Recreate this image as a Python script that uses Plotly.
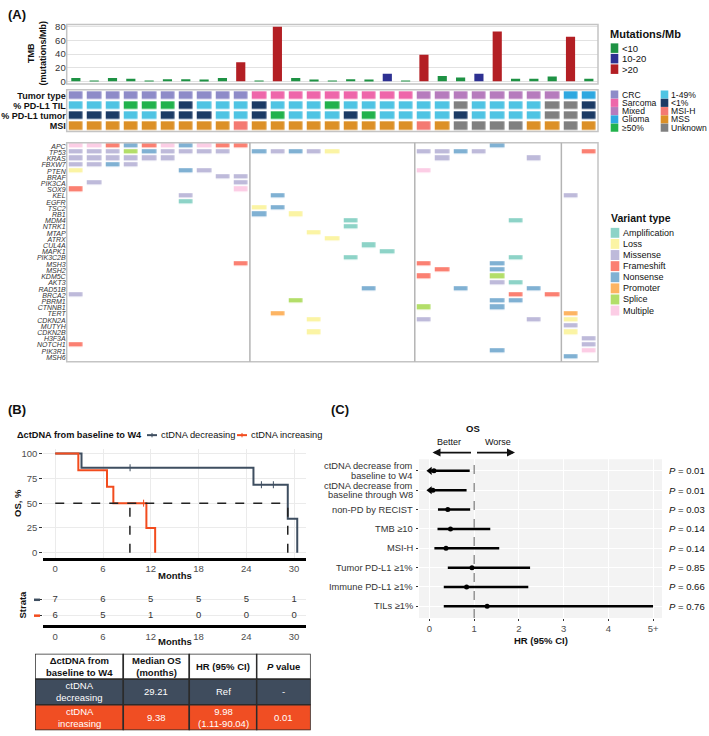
import plotly.graph_objects as go

W, H = 709, 736
def fx(x): return x / W
def fy(y): return 1 - y / H

FONT = "Liberation Sans, Arial, sans-serif"

# ---------------- Panel A data ----------------
sample_ids = list(range(1, 30))
tmb_values = [5, 1, 5, 4, 1, 3, 3, 2, 5, 28, 1, 80, 5, 2, 1, 3, 2, 11, 1, 39,
              8, 5.5, 11, 73, 4, 4, 7, 65.5, 4]
tmb_bins = ["<10", "10-20", ">20"]
tmb_bin_colors = ["#1e9244", "#2e3192", "#b31f24"]

tumor_type = ["CRC", "CRC", "CRC", "CRC", "CRC", "CRC", "CRC", "CRC", "CRC", "CRC",
              "Sarcoma", "Sarcoma", "Sarcoma", "Sarcoma", "Sarcoma", "Sarcoma", "Sarcoma", "Sarcoma", "Sarcoma",
              "Mixed", "Mixed", "Mixed", "Mixed", "Mixed", "Mixed", "Mixed", "Mixed",
              "Glioma", "Glioma"]
pdl1_til = ["1-49%", "1-49%", "1-49%", "≥50%", "≥50%", "≥50%", "<1%", "1-49%", "1-49%", "1-49%",
            "<1%", "1-49%", "1-49%", "1-49%", "≥50%", "1-49%", "1-49%", "1-49%", "1-49%", "1-49%",
            "1-49%", "Unknown", "1-49%", "1-49%", "1-49%", "1-49%", "Unknown", "Unknown", "<1%"]
pdl1_tumor = ["<1%", "<1%", "<1%", "1-49%", "1-49%", "<1%", "<1%", "<1%", "1-49%", "1-49%",
              "<1%", "≥50%", "1-49%", "1-49%", "1-49%", "<1%", "≥50%", "1-49%", "1-49%", "1-49%",
              "1-49%", "<1%", "1-49%", "1-49%", "1-49%", "1-49%", "Unknown", "Unknown", "<1%"]
msi_status = ["MSS", "MSS", "MSS", "MSS", "MSS", "MSS", "MSS", "MSS", "MSS", "MSI-H",
              "MSS", "MSS", "MSS", "MSS", "MSS", "MSS", "MSS", "MSS", "MSS", "MSI-H",
              "MSS", "Unknown", "Unknown", "Unknown", "Unknown", "MSS", "MSS", "Unknown", "MSS"]
annotation_rows = ["Tumor type", "% PD-L1 TIL", "% PD-L1 tumor", "MSI"]
annotation_legend_col1 = ["CRC", "Sarcoma", "Mixed", "Glioma", "≥50%"]
annotation_legend_col2 = ["1-49%", "<1%", "MSI-H", "MSS", "Unknown"]
annotation_colors = {"CRC": "#8e8bc8", "Sarcoma": "#ee66aa", "Mixed": "#b67bbd", "Glioma": "#2ea8e0",
                     "≥50%": "#22b24c", "1-49%": "#4fc4e3", "<1%": "#1c3b65", "MSI-H": "#f47a72",
                     "MSS": "#dc9027", "Unknown": "#808080"}

genes = ["APC", "TP53", "KRAS", "FBXW7", "PTEN", "BRAF", "PIK3CA", "SOX9", "KEL", "EGFR", "TSC2",
         "RB1", "MDM4", "NTRK1", "MTAP", "ATRX", "CUL4A", "MAPK1", "PIK3C2B", "MSH3", "MSH2",
         "KDM5C", "AKT3", "RAD51B", "BRCA2", "PBRM1", "CTNNB1", "TERT", "CDKN2A", "MUTYH",
         "CDKN2B", "H3F3A", "NOTCH1", "PIK3R1", "MSH6"]
variant_types = ["Amplification", "Loss", "Missense", "Frameshift", "Nonsense", "Promoter", "Splice", "Multiple"]
variant_code = {"A": "Amplification", "L": "Loss", "M": "Missense", "F": "Frameshift",
                "N": "Nonsense", "P": "Promoter", "S": "Splice", "X": "Multiple"}
variant_colors = ["#8dd3c7", "#fbf4a4", "#bebada", "#fb8072", "#80b1d3", "#fdb462", "#b3de69", "#fccde5"]
mutations = {
    "APC": [(1, "X"), (2, "X"), (3, "F"), (4, "N"), (5, "F"), (6, "X"), (7, "N"), (8, "X"), (9, "F"), (10, "F"), (24, "N")],
    "TP53": [(1, "M"), (2, "M"), (3, "M"), (4, "S"), (5, "N"), (6, "M"), (7, "M"), (8, "M"), (9, "M"), (11, "N"),
             (12, "M"), (13, "N"), (14, "M"), (15, "L"), (20, "M"), (21, "M"), (22, "N"), (23, "M"), (29, "F")],
    "KRAS": [(1, "M"), (2, "M"), (3, "M"), (4, "M"), (5, "M"), (6, "M"), (21, "M"), (26, "M")],
    "FBXW7": [(1, "M"), (2, "M"), (3, "N"), (4, "M")],
    "PTEN": [(1, "L"), (7, "N"), (8, "M"), (20, "X")],
    "BRAF": [(9, "M"), (10, "M")],
    "PIK3CA": [(2, "M"), (10, "M")],
    "SOX9": [(1, "F"), (10, "X")],
    "KEL": [(7, "M"), (12, "N"), (28, "M")],
    "EGFR": [(7, "A")],
    "TSC2": [(11, "L"), (12, "N")],
    "RB1": [(11, "N"), (13, "L")],
    "MDM4": [(16, "A"), (25, "A")],
    "NTRK1": [(16, "A")],
    "MTAP": [(14, "L")],
    "ATRX": [(15, "L")],
    "CUL4A": [(17, "A")],
    "MAPK1": [(18, "A")],
    "PIK3C2B": [(16, "A"), (25, "A")],
    "MSH3": [(10, "F"), (20, "F"), (24, "N")],
    "MSH2": [(21, "F"), (24, "N")],
    "KDM5C": [(20, "F"), (24, "S")],
    "AKT3": [(24, "M"), (25, "A")],
    "RAD51B": [(17, "N"), (22, "N"), (26, "N")],
    "BRCA2": [(1, "M"), (25, "F"), (27, "F")],
    "PBRM1": [(13, "S"), (24, "N"), (25, "N")],
    "CTNNB1": [(20, "S"), (24, "N")],
    "TERT": [(12, "P"), (28, "P")],
    "CDKN2A": [(14, "L"), (20, "M"), (26, "M"), (28, "L")],
    "MUTYH": [(28, "M")],
    "CDKN2B": [(14, "L"), (28, "L")],
    "H3F3A": [(29, "M")],
    "NOTCH1": [(1, "F"), (29, "M")],
    "PIK3R1": [(24, "N"), (29, "X")],
    "MSH6": [(28, "N")],
}

# ---------------- Panel B data ----------------
km_dec_time = [0, 3.3, 24.9, 29.21, 30.4]
km_dec_surv = [100, 85.7, 68.6, 34.3, 0]
km_dec_cens_time = [9.4, 25.9, 27.4]
km_dec_cens_surv = [85.7, 68.6, 68.6]
km_inc_time = [0, 2.9, 6.5, 7.3, 11.45, 12.55]
km_inc_surv = [100, 83.3, 66.7, 50, 25, 0]
km_inc_cens_time = [11.1]
km_inc_cens_surv = [50]
risk_times = [0, 6, 12, 18, 24, 30]
risk_dec = [7, 6, 5, 5, 5, 1]
risk_inc = [6, 5, 1, 0, 0, 0]
median_os = [29.21, 9.38]
group_names = ["ctDNA decreasing", "ctDNA increasing"]
group_colors = ["#3e4e60", "#f24c1e"]

table_header = ["ΔctDNA from<br>baseline to W4", "Median OS<br>(months)", "HR (95% CI)", "<i>P</i> value"]
table_rows = [["ctDNA<br>decreasing", "29.21", "Ref", "-"],
              ["ctDNA<br>increasing", "9.38", "9.98<br>(1.11-90.04)", "0.01"]]
table_row_colors = ["#3f4c5d", "#f04e23"]
table_col_widths = [88.3, 66.0, 67.4, 54.0]

# ---------------- Panel C data ----------------
forest_labels = [["ctDNA decrease from", "baseline to W4"], ["ctDNA decrease from", "baseline through W8"],
                 ["non-PD by RECIST"], ["TMB ≥10"], ["MSI-H"], ["Tumor PD-L1 ≥1%"], ["Immune PD-L1 ≥1%"], ["TILs ≥1%"]]
forest_hr = [0.10, 0.076, 0.41, 0.47, 0.37, 0.95, 0.83, 1.29]
forest_lo = [0.011, 0.01, 0.19, 0.18, 0.11, 0.41, 0.32, 0.32]
forest_hi = [0.90, 0.83, 0.91, 1.36, 1.56, 2.25, 2.21, 5.0]
forest_lo_truncated = [True, True, False, False, False, False, False, False]
forest_p = ["0.01", "0.01", "0.03", "0.14", "0.14", "0.85", "0.66", "0.76"]
forest_ticks = [0, 1, 2, 3, 4, 5]
forest_ticktext = ["0", "1", "2", "3", "4", "5+"]
hr_reference = 1

# ================= Figure =================
fig = go.Figure()
shapes = []
annots = []

def discrete_scale(colors):
    n = len(colors)
    cs = []
    for i, c in enumerate(colors):
        cs.append([i / n, c])
        cs.append([(i + 1) / n, c])
    return cs

def txt(text, x, y, size=9.5, bold=False, xanchor="left", angle=0, color="#111", xref="paper", yref="paper", yshift=0):
    annots.append(dict(text=("<b>%s</b>" % text) if bold else text,
                       x=fx(x) if xref == "paper" else x, y=fy(y) if yref == "paper" else y,
                       xref=xref, yref=yref, showarrow=False, xanchor=xanchor, yanchor="middle",
                       textangle=angle, yshift=yshift, borderpad=0, font=dict(size=size, color=color)))

# TMB bars
def tmb_bin(v):
    return 0 if v < 10 else (1 if v <= 20 else 2)
fig.add_trace(go.Bar(x=sample_ids, y=tmb_values, width=0.5,
                     marker=dict(color=[tmb_bin_colors[tmb_bin(v)] for v in tmb_values], line=dict(width=0)),
                     xaxis="x", yaxis="y", hoverinfo="skip"))

# annotation heatmap
ann_cats = list(annotation_colors.keys())
ann_z = [[ann_cats.index(v) for v in row] for row in [tumor_type, pdl1_til, pdl1_tumor, msi_status]]
fig.add_trace(go.Heatmap(z=ann_z, x=sample_ids, y=list(range(4)),
                         colorscale=discrete_scale([annotation_colors[c] for c in ann_cats]),
                         zmin=-0.5, zmax=len(ann_cats) - 0.5, showscale=False, xgap=4.3, ygap=2.4,
                         xaxis="x", yaxis="y2", hoverinfo="skip"))

# mutation matrix heatmap
mut_z = [[None] * len(sample_ids) for _ in genes]
for gi, g in enumerate(genes):
    for s, c in mutations[g]:
        mut_z[gi][s - 1] = variant_types.index(variant_code[c])
fig.add_trace(go.Heatmap(z=mut_z, x=sample_ids, y=list(range(len(genes))),
                         colorscale=discrete_scale(variant_colors), zmin=-0.5, zmax=len(variant_types) - 0.5,
                         showscale=False, xgap=4.3, ygap=1.7, xaxis="x", yaxis="y3", hoverinfo="skip"))

# panel A frames
for yr in ["y", "y2", "y3"]:
    shapes.append(dict(type="rect", xref="x domain", yref=yr + " domain", x0=0, x1=1, y0=0, y1=1,
                       line=dict(color="#c4c4c4", width=1.5), fillcolor="rgba(0,0,0,0)", layer="above"))
for i in range(1, len(tumor_type)):
    if tumor_type[i] != tumor_type[i - 1]:
        xb = (sample_ids[i] + sample_ids[i - 1]) / 2
        shapes.append(dict(type="line", xref="x", yref="y3 domain", x0=xb, x1=xb, y0=0, y1=1,
                           line=dict(color="#b4b4b4", width=1.5)))

txt("(A)", 7, 12, size=13, bold=True)
txt("TMB<br>(mutations/Mb)", 37, 51, size=9, bold=True, xanchor="center", angle=-90)

def swatch(x0, y0, x1, y1, color):
    shapes.append(dict(type="rect", xref="paper", yref="paper", x0=fx(x0), x1=fx(x1), y0=fy(y1), y1=fy(y0),
                       fillcolor=color, line=dict(width=0)))

txt("Mutations/Mb", 609, 31.5, size=11, bold=True)
for i, (b, c) in enumerate(zip(tmb_bins, tmb_bin_colors)):
    y0 = 40.7 + i * 10.6
    swatch(610.7, y0, 618.3, y0 + 9.6, c)
    txt(b, 621, y0 + 4.9, size=9.5)

for col, (xs, xl) in enumerate([(610.7, 620.5), (660.7, 669.5)]):
    items = annotation_legend_col1 if col == 0 else annotation_legend_col2
    for i, it in enumerate(items):
        yc = 92.3 + i * 8.35
        swatch(xs, yc - 4.1, xs + 7.6, yc + 4.1, annotation_colors[it])
        txt(it, xl, yc, size=8.6)

txt("Variant type", 609.5, 216.7, size=10.5, bold=True)
for i, (v, c) in enumerate(zip(variant_types, variant_colors)):
    yc = 231.7 + i * 11.2
    swatch(610.7, yc - 5, 619.3, yc + 5, c)
    txt(v, 621.5, yc, size=9)

# ---------------- Panel B ----------------
for t, s, c in [(km_dec_time, km_dec_surv, group_colors[0]), (km_inc_time, km_inc_surv, group_colors[1])]:
    fig.add_trace(go.Scatter(x=t, y=s, mode="lines", line=dict(color=c, width=2, shape="hv"),
                             xaxis="x2", yaxis="y4", hoverinfo="skip"))
for t, s, c in [(km_dec_cens_time, km_dec_cens_surv, group_colors[0]), (km_inc_cens_time, km_inc_cens_surv, group_colors[1])]:
    fig.add_trace(go.Scatter(x=t, y=s, mode="markers",
                             marker=dict(symbol="line-ns", size=5, line=dict(color=c, width=1)),
                             xaxis="x2", yaxis="y4", hoverinfo="skip"))
fig.add_trace(go.Scatter(x=[0, max(median_os)], y=[50, 50], mode="lines",
                         line=dict(color="#222", width=1.5, dash="dash"), xaxis="x2", yaxis="y4", hoverinfo="skip"))
for m in median_os:
    fig.add_trace(go.Scatter(x=[m, m], y=[0, 50], mode="lines",
                             line=dict(color="#222", width=1.5, dash="dash"), xaxis="x2", yaxis="y4", hoverinfo="skip"))

for yv, vals in [(2, risk_dec), (1, risk_inc)]:
    fig.add_trace(go.Scatter(x=risk_times, y=[yv] * len(vals), mode="text", text=[str(v) for v in vals],
                             textfont=dict(size=9.5, color="#333", family=FONT), xaxis="x3", yaxis="y5", hoverinfo="skip"))

txt("(B)", 7, 410, size=13, bold=True)
txt("ΔctDNA from baseline to W4", 15.5, 435.7, size=9.2, bold=True)
for (x0, xt), name, c in zip([(147, 160), (237, 250)], group_names, group_colors):
    shapes.append(dict(type="line", xref="paper", yref="paper", x0=fx(x0), x1=fx(x0 + 10), y0=fy(435.7), y1=fy(435.7),
                       line=dict(color=c, width=2)))
    shapes.append(dict(type="line", xref="paper", yref="paper", x0=fx(x0 + 5), x1=fx(x0 + 5), y0=fy(433.5), y1=fy(437.9),
                       line=dict(color=c, width=1)))
    txt(name, xt, 435.7, size=9.3)
txt("OS, %", 18, 504, bold=True, xanchor="center", angle=-90)
txt("Months", 174.6, 577.5, bold=True, xanchor="center")
txt("Strata", 22.5, 607, bold=True, xanchor="center", angle=-90)
txt("Months", 174.6, 644, bold=True, xanchor="center")
for yc, c in zip([601.7, 617.7], group_colors):
    shapes.append(dict(type="line", xref="paper", yref="paper", x0=fx(34), x1=fx(40), y0=fy(yc), y1=fy(yc),
                       line=dict(color=c, width=2.5)))

# table
col_edges = [0]
for w in table_col_widths:
    col_edges.append(col_edges[-1] + w)
all_rows = [table_header] + table_rows
fills = ["white"] + table_row_colors
for ri, row in enumerate(all_rows):
    for ci, t in enumerate(row):
        shapes.append(dict(type="rect", xref="x4", yref="y6", x0=col_edges[ci], x1=col_edges[ci + 1],
                           y0=ri, y1=ri + 1, fillcolor=fills[ri], line=dict(color="#2b2b2b", width=1.5)))
        annots.append(dict(text=("<b>%s</b>" % t) if ri == 0 else t,
                           x=(col_edges[ci] + col_edges[ci + 1]) / 2, y=ri + 0.5, xref="x4", yref="y6",
                           showarrow=False, xanchor="center", yanchor="middle",
                           font=dict(size=9.5, color="#111" if ri == 0 else "white")))

# ---------------- Panel C ----------------
n_f = len(forest_labels)
rows_y = [n_f - i for i in range(n_f)]
shapes.append(dict(type="rect", xref="x5 domain", yref="y7 domain", x0=0, x1=1, y0=0, y1=1,
                   fillcolor="#f3f3f3", line=dict(width=0), layer="below"))
shapes.append(dict(type="line", xref="x5", yref="y7 domain", x0=hr_reference, x1=hr_reference, y0=0, y1=1,
                   line=dict(color="#7a7a7a", width=1.2, dash="dash")))
ci_x, ci_y = [], []
for lo, hi, yv in zip(forest_lo, forest_hi, rows_y):
    ci_x += [lo, hi, None]
    ci_y += [yv, yv, None]
fig.add_trace(go.Scatter(x=ci_x, y=ci_y, mode="lines", line=dict(color="black", width=2.5),
                         xaxis="x5", yaxis="y7", hoverinfo="skip"))
fig.add_trace(go.Scatter(x=forest_hr, y=rows_y, mode="markers", marker=dict(size=5, color="black"),
                         xaxis="x5", yaxis="y7", hoverinfo="skip"))
fig.add_trace(go.Scatter(x=[lo for lo, t in zip(forest_lo, forest_lo_truncated) if t],
                         y=[yv for yv, t in zip(rows_y, forest_lo_truncated) if t], mode="markers",
                         marker=dict(symbol="triangle-left", size=7, color="black"),
                         xaxis="x5", yaxis="y7", hoverinfo="skip"))
for lines, yv in zip(forest_labels, rows_y):
    n = len(lines)
    for k, ln in enumerate(lines):
        shift = (n - 1) * 4.7 - k * 9.4
        txt(ln, 413.5, yv, size=9.3, xanchor="right", color="#333", yref="y7", yshift=shift)
for p, yv in zip(forest_p, rows_y):
    txt("<i>P</i> = %s" % p, 667.5, yv, size=9.5, yref="y7")
txt("(C)", 330, 410, size=13, bold=True)
txt("OS", 472.8, 428.5, bold=True, xanchor="center")
txt("Better", 449.3, 442.5, size=9, xanchor="center")
txt("Worse", 498.3, 442.5, size=9, xanchor="center")
annots.append(dict(text="", x=fx(432.5), y=fy(453.3), xref="paper", yref="paper", showarrow=True,
                   ax=40, ay=0, arrowhead=2, arrowsize=1, arrowwidth=1.6, arrowcolor="#111"))
annots.append(dict(text="", x=fx(515), y=fy(453.3), xref="paper", yref="paper", showarrow=True,
                   ax=-39.5, ay=0, arrowhead=2, arrowsize=1, arrowwidth=1.6, arrowcolor="#111"))
txt("HR (95% CI)", 540.5, 642.5, bold=True, xanchor="center")

tick_small = dict(size=9.5, color="#4d4d4d", family=FONT)
fig.update_layout(
    width=W, height=H, margin=dict(l=0, r=0, t=0, b=0), paper_bgcolor="white", plot_bgcolor="white",
    showlegend=False, font=dict(family=FONT, size=9.5, color="#111"),
    xaxis=dict(domain=[fx(66.7), fx(598)], range=[0.5, 29.5], showticklabels=False, showgrid=False,
               zeroline=False, ticks="", anchor="y"),
    yaxis=dict(domain=[fy(81.7), fy(21.7)], range=[-3.9, 83.3], tickvals=[0, 20, 40, 60, 80], showgrid=True,
               gridcolor="#e2e2e2", zeroline=False, ticks="", anchor="x", tickfont=dict(size=9.5, color="#333")),
    yaxis2=dict(domain=[fy(129.5), fy(87.5)], range=[3.55, -0.55], tickvals=list(range(4)),
                ticktext=["<b>%s</b>" % r for r in annotation_rows], showgrid=False, zeroline=False, ticks="",
                anchor="x", tickfont=dict(size=9, color="#111")),
    yaxis3=dict(domain=[fy(361.7), fy(141)], range=[len(genes) - 0.3, -0.55], tickvals=list(range(len(genes))),
                ticktext=["<i>%s</i>" % g for g in genes], showgrid=False, zeroline=False, ticks="",
                anchor="x", tickfont=dict(size=7, color="#333")),
    xaxis2=dict(domain=[fx(43.3), fx(306)], range=[-1.5, 31.5], tickvals=risk_times, showline=True, linewidth=3,
                linecolor="black", showgrid=True, gridcolor="#ebebeb", zeroline=False, ticks="", anchor="y4",
                tickfont=tick_small),
    yaxis4=dict(domain=[fy(559.3), fy(449.3)], range=[-5, 105], tickvals=[0, 25, 50, 75, 100], showgrid=True,
                gridcolor="#ebebeb", zeroline=False, ticks="outside", ticklen=3, tickcolor="#333",
                anchor="x2", tickfont=tick_small),
    xaxis3=dict(domain=[fx(43.3), fx(306)], range=[-1.5, 31.5], tickvals=risk_times, showline=True, linewidth=3,
                linecolor="black", showgrid=False, zeroline=False, ticks="", anchor="y5", tickfont=tick_small),
    yaxis5=dict(domain=[fy(627.3), fy(592)], range=[0.4, 2.6], tickvals=[1, 2], ticktext=[" ", " "],
                showgrid=True, gridcolor="#ebebeb", zeroline=False, ticks="outside", ticklen=3, tickcolor="#333",
                anchor="x3"),
    xaxis4=dict(domain=[fx(35), fx(310.7)], range=[0, col_edges[-1]], visible=False, anchor="y6"),
    yaxis6=dict(domain=[fy(733.3), fy(656)], range=[len(all_rows), 0], visible=False, anchor="x4"),
    xaxis5=dict(domain=[fx(419), fx(662)], range=[-0.234, 5.2], tickvals=forest_ticks, ticktext=forest_ticktext,
                showgrid=True, gridcolor="white", gridwidth=1, zeroline=False, ticks="outside", ticklen=2,
                tickcolor="#333", anchor="y7", tickfont=tick_small),
    yaxis7=dict(domain=[fy(620), fy(460)], range=[0.4, n_f + 0.6], tickvals=rows_y, ticktext=[" "] * n_f,
                showgrid=True, gridcolor="white", zeroline=False, ticks="outside", ticklen=2, tickcolor="#333",
                anchor="x5"),
    shapes=shapes, annotations=annots,
)
fig.write_html("out.html", config={"displayModeBar": False},
               post_script="document.body.style.margin='0';document.body.style.overflow='hidden';")
